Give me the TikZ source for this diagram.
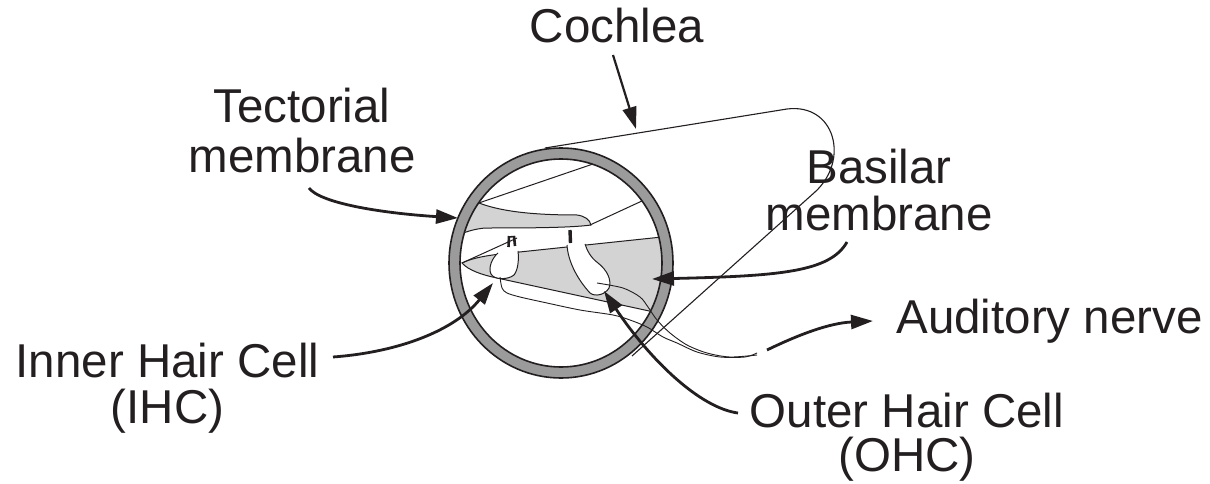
\documentclass[tikz,border=0pt]{standalone}
\usepackage{fontspec}
\setmainfont{Liberation Sans}
\usetikzlibrary{arrows.meta}
\definecolor{ringgray}{HTML}{9B9B9B}
\definecolor{softgray}{HTML}{D3D3D3}
\definecolor{ink}{HTML}{231F20}
\begin{document}
\begin{tikzpicture}[x=1pt,y=-1pt,
  lbl/.style={font=\fontsize{47.5}{57}\selectfont, inner sep=0pt, anchor=base, text=ink},
  arr/.style={line width=2.8pt, draw=ink, -{Triangle[length=22pt,width=14pt]}},
  fine/.style={line width=1pt, draw=ink},
  ]
\useasboundingbox (0,0) rectangle (1210,484);

% ---------- inside of the cross-section ----------
\begin{scope}
  \clip (561,263) ellipse [x radius=101pt, y radius=104pt];
  % tectorial membrane
  \filldraw[fine, fill=softgray] (479,203) .. controls (500,211) and (530,215) .. (577,215)
     .. controls (585,216) and (590,220) .. (591,225)
     .. controls (570,228) and (520,228) .. (485,228)
     .. controls (475,229) and (468,231) .. (455,236) -- (440,200) -- cycle;
  \draw[fine] (470,206) -- (600,161.6);
  \draw[fine] (590,225) -- (670,188);
  % basilar wedge
  \filldraw[fine, fill=softgray] (462,263) .. controls (472,258) and (488,255) .. (510,253)
     -- (700,233) -- (700,322) -- (497,278)
     .. controls (482,275) and (468,270) .. (462,263) -- cycle;
  \draw[fine] (462,263) -- (517,238);
  % inner hair cell
  \filldraw[fine, fill=white] (498,253) .. controls (492,258) and (488,268) .. (491,274)
     .. controls (494,280) and (508,280) .. (514,275)
     .. controls (518,270) and (519,260) .. (518,251);
  % outer hair cell
  \filldraw[fine, fill=white] (567,245) .. controls (568,262) and (578,280) .. (590,293)
     .. controls (595,297) and (605,295) .. (609,288)
     .. controls (612,280) and (607,270) .. (598,263)
     .. controls (590,257) and (587,250) .. (585,244);
  % hair bundles
  \draw[line width=2.6pt, ink] (509,236) -- (508.5,247) (514,236) -- (515,246);
  \draw[line width=1.6pt, ink] (509,237) -- (514.5,236.5);
  \draw[line width=3.4pt, ink] (570,230) -- (570.5,243);
\end{scope}

% ---------- ring ----------
\fill[ringgray, even odd rule] (561,263) ellipse [x radius=112pt, y radius=115pt]
                               (561,263) ellipse [x radius=101pt, y radius=104pt];
\draw[line width=1.6pt, ink] (561,263) ellipse [x radius=112pt, y radius=115pt];
\draw[line width=1.6pt, ink] (561,263) ellipse [x radius=101pt, y radius=104pt];

% ---------- nerve fibres ----------
\draw[fine, line width=0.9pt] plot[smooth] coordinates {(500,277) (502,288) (507,293) (520,297) (547,303) (580,310) (613,315) (630,320) (647,327) (663,337) (677,343) (697,352) (720,357) (745,357) (757,353)};
\draw[fine, line width=0.9pt] plot[smooth] coordinates {(597,283) (623,288) (640,297) (648,307) (657,320) (670,333) (687,345) (707,353) (730,357) (757,355)};

% ---------- cochlea tube ----------
\draw[fine, line width=1.1pt] (545,148) -- (787,109) .. controls (835,103) and (850,160) .. (815,192) -- (632,356);

% ---------- labels ----------
\node[lbl] (coch) at (617,43) {Cochlea};
\node[lbl] (tect1) at (302,123) {Tectorial};
\node[lbl] (tect2) at (302,172) {membrane};
\node[lbl] (bas1) at (879,183) {Basilar};
\node[lbl] (bas2) at (879,230) {membrane};
\node[lbl] (aud) at (1049.5,333) {Auditory nerve};
\node[lbl] (ihc1) at (167.5,377) {Inner Hair Cell};
\node[lbl] (ihc2) at (167.5,423) {(IHC)};
\node[lbl] (ohc1) at (907,427) {Outer Hair Cell};
\node[lbl] (ohc2) at (907,471) {(OHC)};

% ---------- arrows ----------
\coordinate (cochS) at (613,55);   \coordinate (cochT) at (636,129);
\coordinate (tectS) at (309,188);  \coordinate (tectT) at (458,218);
\coordinate (basS) at (847,242);   \coordinate (basT) at (652,279);
\coordinate (audS) at (767,350);   \coordinate (audT) at (873,321);
\coordinate (ihcS) at (333,357);   \coordinate (ihcT) at (493,283);
\coordinate (ohcS) at (738,413);   \coordinate (ohcT) at (604,291);

\draw[arr, line width=2.2pt] (cochS) -- (cochT);
\draw[arr] (tectS) .. controls (320,203) and (380,213) .. (tectT);
\draw[arr] (basS) .. controls (830,272) and (780,276) .. (basT);
\draw[arr] (audS) .. controls (800,334) and (830,323) .. (audT);
\draw[arr] (ihcS) .. controls (400,352) and (455,330) .. (ihcT);
\draw[arr] (ohcS) .. controls (700,408) and (650,360) .. (ohcT);
\end{tikzpicture}
\end{document}
